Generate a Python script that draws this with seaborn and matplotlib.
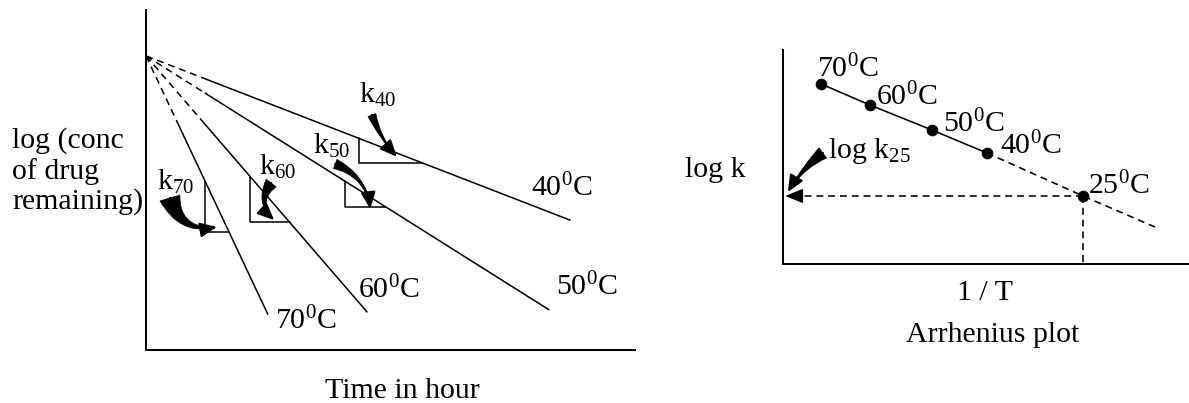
import matplotlib
matplotlib.use("Agg")
import matplotlib.pyplot as plt
import numpy as np
import pandas as pd
import seaborn as sns

# ---------------- data: left panel (first-order decay, schematic units) ----------------
temps = [40, 50, 60, 70]
rate_k = [0.557, 0.906, 1.666, 3.05]      # slopes of log C vs t
logc0 = 8.65                              # common intercept
t_end = [8.67, 8.24, 4.52, 2.49]          # end of each line
t_solid = [1.15, 1.21, 1.12, 0.67]        # dashed (extrapolated) part ends here
tri_t1 = [4.36, 4.07, 2.13, 1.21]         # slope triangles
tri_t2 = [5.64, 4.89, 2.94, 1.70]
temp_lab_t = [7.87, 8.38, 4.34, 2.64]
temp_lab_v = [4.53, 1.62, 1.53, 0.62]
k_lab_t = [4.36, 3.42, 2.31, 0.22]
k_lab_v = [7.26, 5.76, 5.15, 4.71]
k_tail_t = [4.62, 3.87, 2.56, 0.49]
k_tail_v = [6.91, 5.47, 4.91, 4.47]
k_tip_t = [5.13, 4.585, 2.62, 1.45]
k_tip_v = [5.68, 4.15, 3.82, 3.62]
k_rad = [0.1, -0.3, 0.45, 0.45]
k_tailw = [0.3, 0.35, 0.45, 0.75]

# ---------------- data: right panel (Arrhenius plot, schematic units) ----------------
arr_temps = [70, 60, 50, 40]
inv_T = [0.94, 2.14, 3.67, 5.02]
log_k = [8.41, 7.43, 6.26, 5.19]
inv_T25 = 7.39
log_k25 = 3.18
extrap_end = (9.16, 1.73)
arr_lab_x = [0.84, 2.29, 3.94, 5.34]
arr_lab_y = [8.74, 7.43, 6.17, 5.14]
lab25_xy = (7.51, 3.27)
logk25_lab_xy = (1.11, 4.95)

# ---------------- style ----------------
sns.set_theme(style="white")
plt.rcParams["font.family"] = ["Liberation Serif", "DejaVu Serif"]
plt.rcParams["mathtext.fontset"] = "custom"
plt.rcParams["mathtext.rm"] = "Liberation Serif"
plt.rcParams["mathtext.it"] = "Liberation Serif:italic"
plt.rcParams["mathtext.bf"] = "Liberation Serif:bold"
plt.rcParams["lines.scale_dashes"] = False
FS = 21.5
DASH = (0, (5, 3.5))
LW = 1.1

fig = plt.figure(figsize=(11.89, 4.03), dpi=100)
axL = fig.add_axes([146 / 1189, 53 / 403, 489 / 1189, 340 / 403])
axR = fig.add_axes([783 / 1189, 139 / 403, 406 / 1189, 214 / 403])

for ax in (axL, axR):
    ax.set_xlim(0, 10)
    ax.set_ylim(0, 10)
    ax.set_facecolor("white")
    for s in ("top", "right"):
        ax.spines[s].set_visible(False)
    for s in ("left", "bottom"):
        ax.spines[s].set_color("black")
        ax.spines[s].set_linewidth(1.45)


def curved_arrow(ax, tail, tip, rad, tailw):
    ax.annotate("", xy=tip, xytext=tail,
                arrowprops=dict(arrowstyle=f"wedge,tail_width={tailw},shrink_factor=0.35",
                                connectionstyle=f"arc3,rad={rad}", color="black",
                                shrinkA=0, shrinkB=4, mutation_scale=20, lw=0.5))
    ax.annotate("", xy=tip, xytext=tail,
                arrowprops=dict(arrowstyle="-|>,head_length=0.5,head_width=0.22",
                                connectionstyle=f"arc3,rad={rad}", color="black",
                                shrinkA=0, shrinkB=0, mutation_scale=20, lw=1.6))


# ---------------- left panel ----------------
for i, T in enumerate(temps):
    t_d = np.array([0.0, t_solid[i]])
    t_s = np.array([t_solid[i], t_end[i]])
    sns.lineplot(x=t_d, y=logc0 - rate_k[i] * t_d, ax=axL, color="black",
                 lw=LW, linestyle=DASH, sort=False, estimator=None)
    sns.lineplot(x=t_s, y=logc0 - rate_k[i] * t_s, ax=axL, color="black",
                 lw=LW, sort=False, estimator=None)
    # slope triangle
    v1 = logc0 - rate_k[i] * tri_t1[i]
    v2 = logc0 - rate_k[i] * tri_t2[i]
    tri = pd.DataFrame({"t": [tri_t1[i], tri_t1[i], tri_t2[i]], "v": [v1, v2, v2]})
    sns.lineplot(data=tri, x="t", y="v", ax=axL, color="black", lw=LW,
                 sort=False, estimator=None)
    axL.text(temp_lab_t[i], temp_lab_v[i], f"{T}$^{{\\mathrm{{0}}}}$C", fontsize=FS,
             ha="left", va="baseline", color="black")
    axL.text(k_lab_t[i], k_lab_v[i], f"k$_{{\\mathrm{{{T}}}}}$", fontsize=FS,
             ha="left", va="baseline", color="black")
    curved_arrow(axL, (k_tail_t[i], k_tail_v[i]), (k_tip_t[i], k_tip_v[i]),
                 k_rad[i], k_tailw[i])

# ---------------- right panel ----------------
sns.lineplot(x=inv_T, y=log_k, ax=axR, color="black", lw=1.15, sort=False,
             estimator=None)
sns.lineplot(x=[inv_T[-1], inv_T25, extrap_end[0]], y=[log_k[-1], log_k25, extrap_end[1]],
             ax=axR, color="black", lw=1.15, linestyle=DASH, sort=False, estimator=None)
sns.scatterplot(x=inv_T + [inv_T25], y=log_k + [log_k25], ax=axR, color="black",
                s=60, edgecolor="black", zorder=5)
# projection to the axes
sns.lineplot(x=[inv_T25, 0.35], y=[log_k25, log_k25], ax=axR, color="black", lw=1.15,
             linestyle=DASH, sort=False, estimator=None)
sns.lineplot(x=[inv_T25, inv_T25], y=[log_k25, 0], ax=axR, color="black", lw=1.15,
             linestyle=DASH, sort=False, estimator=None)
axR.annotate("", xy=(0.05, log_k25), xytext=(0.45, log_k25),
             arrowprops=dict(arrowstyle="-|>,head_length=0.55,head_width=0.22",
                             color="black", lw=1.1, shrinkA=0, shrinkB=0,
                             mutation_scale=20))
for i, T in enumerate(arr_temps):
    axR.text(arr_lab_x[i], arr_lab_y[i], f"{T}$^{{\\mathrm{{0}}}}$C", fontsize=FS,
             ha="left", va="baseline", color="black")
axR.text(lab25_xy[0], lab25_xy[1], "25$^{\\mathrm{0}}$C", fontsize=FS,
         ha="left", va="baseline", color="black")
axR.text(logk25_lab_xy[0], logk25_lab_xy[1], "log k$_{\\mathrm{25}}$", fontsize=FS,
         ha="left", va="baseline", color="black")
curved_arrow(axR, (0.98, 5.19), (0.12, 3.36), 0.1, 0.45)

# ---------------- axis labels (after seaborn calls) ----------------
for ax in (axL, axR):
    ax.set_xticks([])
    ax.set_yticks([])

axL.set_xlabel("Time in hour", fontsize=FS, color="black", va="baseline", visible=True)
axL.xaxis.set_label_coords(0.524, -0.141)
axL.set_ylabel("log (conc\nof drug\nremaining)", fontsize=FS, color="black",
               rotation=0, ha="left", va="baseline", linespacing=1.15,
               multialignment="left", visible=True)
axL.yaxis.set_label_coords(-0.274, 0.426)

axR.set_xlabel("1 / T", fontsize=FS, color="black", va="baseline", visible=True)
axR.xaxis.set_label_coords(0.4975, -0.168)
axR.set_ylabel("log k", fontsize=FS, color="black", rotation=0, ha="left",
               va="baseline", visible=True)
axR.yaxis.set_label_coords(-0.241, 0.407)
axR.text(0.516, -0.364, "Arrhenius plot", transform=axR.transAxes, fontsize=FS,
         ha="center", va="baseline", color="black")

fig.savefig("out.png", dpi=100, facecolor="white")
